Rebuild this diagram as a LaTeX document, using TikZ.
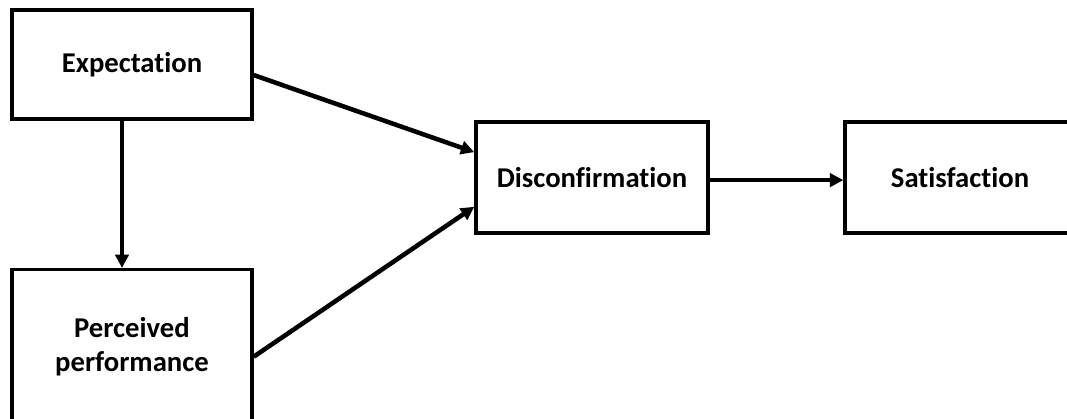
\documentclass[tikz,border=0pt]{standalone}
\usepackage{fontspec}
\setmainfont{Carlito}[Ligatures=NoCommon]
\usetikzlibrary{positioning, arrows.meta}

\begin{document}
\begin{tikzpicture}
    [
        x=1pt, y=1pt, node distance=276pt, on grid,
        >={Triangle[length=10pt, width=10pt]},
        box_node/.style={rectangle, draw=black, fill=white, line width=2.6pt, align=center, font=\fontsize{21.5}{25}\selectfont\bfseries},
        flow_arrow/.style={->, line width=3.4pt, color=black},
    ]
        \useasboundingbox (0,0) rectangle (800.25,-313.5);
        \clip (0,0) rectangle (800.25,-313.5);
        \node[box_node, minimum width=180pt, minimum height=81.75pt] (expect) at (99,-48.4) {Expectation} ;
        \node[box_node, minimum width=180pt, minimum height=115.5pt] (perceive) at (99,-260) {Perceived\\performance} ;
        \node[box_node, minimum width=174pt, minimum height=83.25pt] (disconf) at (444,-133.1) {Disconfirmation} ;
        \node[box_node, minimum width=172.5pt, minimum height=83.25pt] (satisf) [right = of disconf] {Satisfaction} ;
        \draw[flow_arrow] ([yshift=-7.9pt]expect.east) -- ([yshift=19pt]disconf.west) ;
        \draw[flow_arrow] ([yshift=-7.5pt]perceive.east) -- ([yshift=-22pt]disconf.west) ;
        \draw[flow_arrow] ([xshift=-7.5pt]expect.south) -- ([xshift=-7.5pt]perceive.north) ;
        \draw[flow_arrow] ([yshift=-2pt]disconf.east) -- ([yshift=-2pt]satisf.west) ;
    \end{tikzpicture}
\end{document}
